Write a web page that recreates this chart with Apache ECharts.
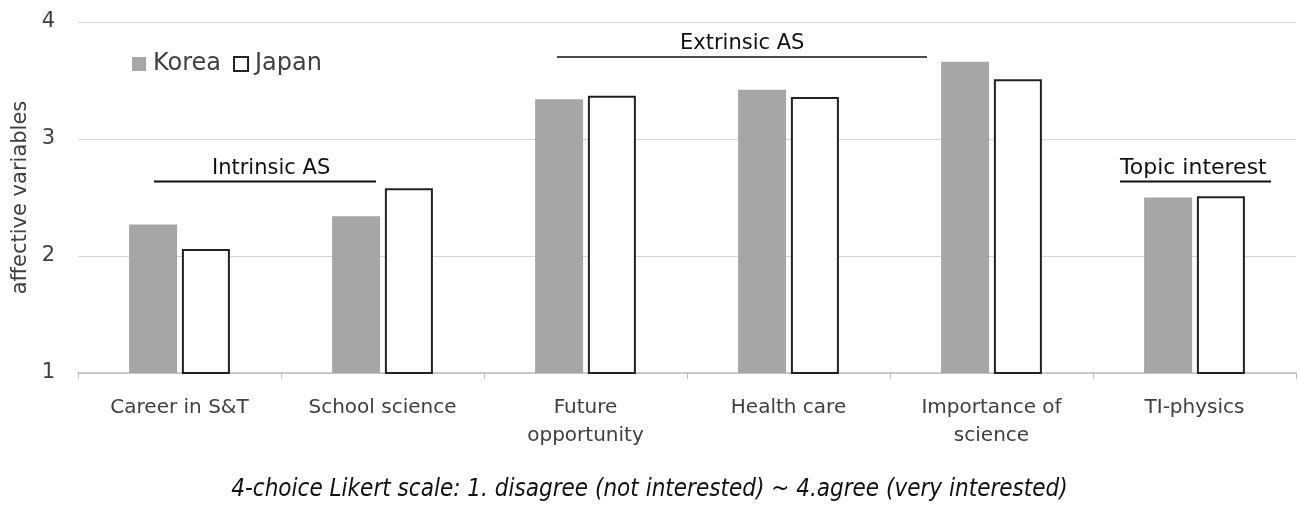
<!DOCTYPE html>
<html>
<head>
<meta charset="utf-8">
<script src="https://cdn.jsdelivr.net/npm/echarts@6/dist/echarts.min.js"></script>
<style>
  html, body { margin: 0; padding: 0; background: #fff; }
  #chart { width: 1299px; height: 510px; }
</style>
</head>
<body>
<div id="chart"></div>
<script>
  var categories = ['Career in S&T', 'School science', 'Future\nopportunity', 'Health care', 'Importance of\nscience', 'TI-physics'];
  var korea = [2.27, 2.34, 3.34, 3.42, 3.66, 2.50];
  var japan = [2.06, 2.58, 3.37, 3.36, 3.51, 2.51];
  var yTicks = [1, 2, 3, 4];

  var font = 'DejaVu Sans';
  var textColor = '#404040';

  var myChart = echarts.init(document.getElementById('chart'));
  var option = {
    animation: false,
    textStyle: { fontFamily: font },
    grid: { left: 78, right: 3, top: 22, bottom: 137, outerBoundsMode: 'none' },
    legend: {
      left: 127,
      top: 47,
      itemWidth: 14,
      itemHeight: 14,
      itemGap: 12,
      icon: 'rect',
      textStyle: { fontFamily: font, fontSize: 24, color: textColor, padding: [0, 0, 0, 2] },
      data: ['Korea', 'Japan']
    },
    xAxis: {
      type: 'category',
      data: categories,
      axisLine: { lineStyle: { color: '#bfbfbf', width: 1.5 } },
      axisTick: { show: true, length: 6, lineStyle: { color: '#bfbfbf' } },
      axisLabel: { fontFamily: font, fontSize: 20, color: textColor, margin: 21, lineHeight: 28, interval: 0 }
    },
    yAxis: {
      type: 'value',
      min: yTicks[0],
      max: yTicks[yTicks.length - 1],
      interval: 1,
      name: 'affective variables',
      nameLocation: 'middle',
      nameGap: 45,
      nameTextStyle: { fontFamily: font, fontSize: 21, color: textColor },
      axisLine: { show: false },
      axisTick: { show: false },
      axisLabel: { fontFamily: font, fontSize: 21, color: textColor, margin: 23 },
      splitLine: { lineStyle: { color: '#d5d5d5', width: 1 } }
    },
    series: [{
      name: 'Korea',
      type: 'bar',
      barWidth: 48,
      barGap: '10%',
      itemStyle: { color: '#a6a6a6' },
      data: korea
    }, {
      name: 'Japan',
      type: 'bar',
      barWidth: 48,
      itemStyle: { color: '#ffffff', borderColor: '#222', borderWidth: 2 },
      data: japan
    }],
    graphic: [
      { type: 'line', shape: { x1: 154, y1: 181.5, x2: 376, y2: 181.5 }, style: { stroke: '#111', lineWidth: 2 } },
      { type: 'text', left: 212, top: 158, style: { text: 'Intrinsic AS', font: '21px ' + font, fill: '#111' } },
      { type: 'line', shape: { x1: 557, y1: 57, x2: 927, y2: 57 }, style: { stroke: '#111', lineWidth: 1.5 } },
      { type: 'text', left: 680, top: 33, style: { text: 'Extrinsic AS', font: '21px ' + font, fill: '#111' } },
      { type: 'text', left: 1120, top: 157, style: { text: 'Topic interest', font: '22px ' + font, fill: '#111' } },
      { type: 'line', shape: { x1: 1120, y1: 181.5, x2: 1271, y2: 181.5 }, style: { stroke: '#111', lineWidth: 2 } },
      { type: 'text', left: 'center', top: 478, style: { text: '4-choice Likert scale: 1. disagree (not interested) ~ 4.agree (very interested)', font: 'italic 24px "DejaVu Sans Condensed"', fill: '#111' } }
    ]
  };
  myChart.setOption(option);
</script>
</body>
</html>
